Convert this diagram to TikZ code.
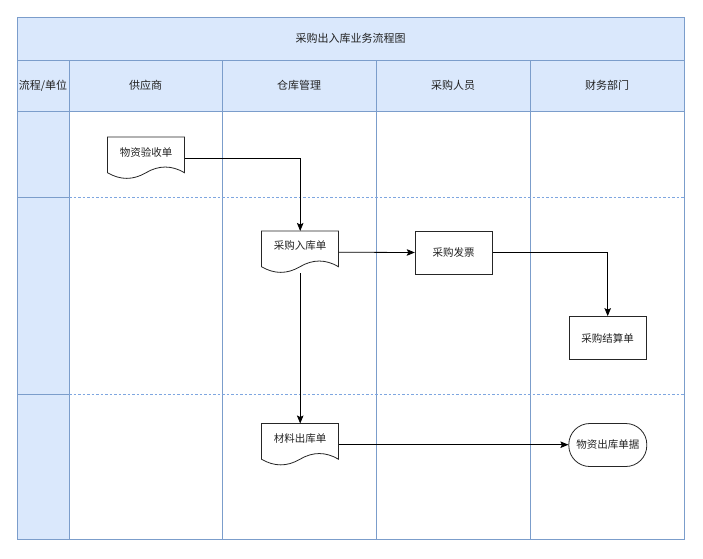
\documentclass[tikz,border=0pt]{standalone}
\usepackage{fontspec}
\setmainfont{Noto Sans CJK SC}
\usetikzlibrary{arrows.meta,calc}
\definecolor{hdrfill}{HTML}{DAE8FC}
\definecolor{hdrline}{HTML}{7B9DCB}
\definecolor{dashline}{HTML}{7EA6E0}
\definecolor{txt}{HTML}{222222}
\tikzset{
  hdrtext/.style={font=\fontsize{11}{13}\selectfont, text=txt, inner sep=0pt},
  lbl/.style={font=\fontsize{10.5}{12}\selectfont, text=txt, inner sep=0pt},
  docbox/.style={draw=none, rectangle, inner sep=0pt},
  shapeline/.style={draw=black!85, line width=0.8pt},
  boxnode/.style={shapeline, rectangle, minimum width=77pt, minimum height=43pt, inner sep=0pt, font=\fontsize{10.5}{12}\selectfont, text=txt},
  termnode/.style={shapeline, rectangle, rounded corners=21pt, minimum width=78pt, minimum height=43pt, inner sep=0pt, font=\fontsize{10.5}{12}\selectfont, text=txt},
  conn/.style={draw=black, line width=0.8pt, -{Stealth[length=8pt,width=6.5pt,inset=1.5pt]}},
  gridline/.style={draw=hdrline, line width=0.8pt},
  lanedash/.style={draw=dashline, line width=0.8pt, dash pattern=on 2.5pt off 2pt},
}
% name, x, y, w, h, text
\newcommand\docnode[6]{%
  \node[docbox, minimum width=#4pt, minimum height=#5pt, anchor=north west] (#1) at (#2,#3) {};
  \draw[shapeline, fill=white] (#2,#3) -- ++(#4,0) -- (#2+#4,#3+0.85*#5)
    .. controls (#2+0.8333*#4,#3+0.67*#5) and (#2+0.6667*#4,#3+0.67*#5) .. (#2+0.5*#4,#3+0.85*#5)
    .. controls (#2+0.3333*#4,#3+1.03*#5) and (#2+0.1667*#4,#3+1.03*#5) .. (#2,#3+0.85*#5)
    -- cycle;
  \node[lbl] (#1-t) at ($(#1.north)+(0,15)$) {#6};
}
\begin{document}
\begin{tikzpicture}[x=1pt,y=-1pt]
\useasboundingbox (0,0) rectangle (703,558);
% backgrounds
\fill[white] (0,0) rectangle (703,558);
\fill[hdrfill] (17,17) rectangle (684,111);
\fill[hdrfill] (17,111) rectangle (69,539);
% grid
\draw[gridline] (17,17) rectangle (684,539);
\draw[gridline] (17,60) -- (684,60);
\draw[gridline] (17,111) -- (684,111);
\foreach \cx in {69,222,376,530} {\draw[gridline] (\cx,60) -- (\cx,539);}
\draw[gridline] (17,197) -- (69,197);
\draw[gridline] (17,394) -- (69,394);
\draw[lanedash] (69,197) -- (684,197);
\draw[lanedash] (69,394) -- (684,394);
% header texts
\node[hdrtext] (title) at (350.5,38.5) {采购出入库业务流程图};
\node[hdrtext] (h0) at (43,85.5) {流程/单位};
\node[hdrtext] (h1) at (145.5,85.5) {供应商};
\node[hdrtext] (h2) at (299,85.5) {仓库管理};
\node[hdrtext] (h3) at (453,85.5) {采购人员};
\node[hdrtext] (h4) at (607,85.5) {财务部门};
% shapes
\docnode{d1}{107.5}{137}{77}{42}{物资验收单}
\docnode{d2}{261.5}{231}{77}{42}{采购入库单}
\docnode{d3}{261.5}{423.5}{77}{42}{材料出库单}
\node[boxnode] (r1) at (453.7,252.5) {采购发票};
\node[boxnode] (r2) at (607.7,338) {采购结算单};
\node[termnode] (t1) at (607.8,445) {物资出库单据};
% connectors
\draw[conn] (d1.east) -| (d2.north);
\draw[conn] (d2.east) -- (r1.west);
\draw[conn] (r1.east) -| (r2.north);
\draw[conn] (d2.south) -- (d3.north);
\draw[conn] (d3.east) -- (t1.west |- d3.east);
\end{tikzpicture}
\end{document}
